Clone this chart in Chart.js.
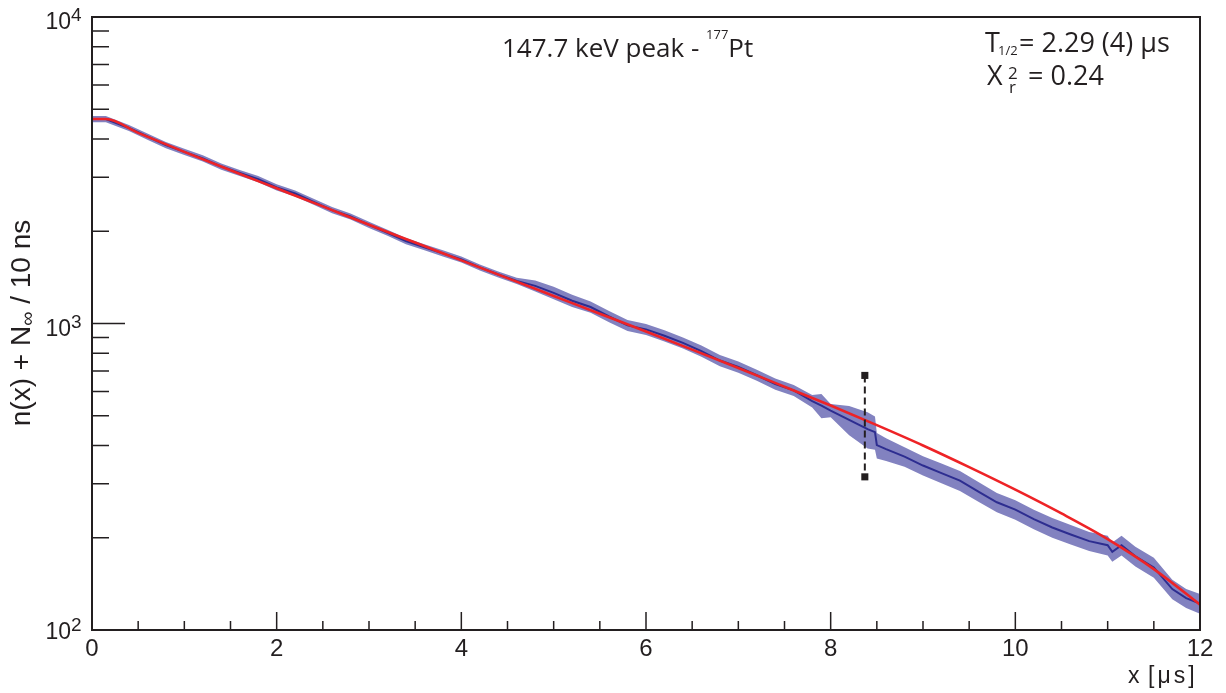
<!DOCTYPE html>
<html>
<head>
<meta charset="utf-8">
<script src="https://cdn.jsdelivr.net/npm/chart.js@4.4.1/dist/chart.umd.min.js"></script>
<style>
  html, body { margin: 0; padding: 0; background: #fff; }
  #wrap { width: 1226px; height: 693px; }
</style>
</head>
<body>
<div id="wrap"><canvas id="decayChart" width="1226" height="693"></canvas></div>
<script>
// histogram of the 147.7 keV gate, time in microseconds
const timeUs = [0, 0.15, 0.4, 0.6, 0.8, 1.0, 1.2, 1.4, 1.6, 1.8, 2.0, 2.2, 2.4, 2.6, 2.8, 3.0,
  3.2, 3.4, 3.6, 3.8, 4.0, 4.2, 4.4, 4.6, 4.8, 5.0, 5.2, 5.4, 5.6, 5.8, 6.0, 6.2, 6.4, 6.6,
  6.8, 7.0, 7.2, 7.4, 7.6, 7.8, 7.9, 8.0, 8.2, 8.4, 8.48, 8.5, 8.6, 8.8, 9.0, 9.2, 9.4, 9.6,
  9.8, 10.0, 10.2, 10.4, 10.6, 10.8, 11.0, 11.05, 11.15, 11.3, 11.5, 11.7, 11.85, 12.0];
const counts = [4645, 4645, 4345, 4074, 3819, 3631, 3459, 3251, 3097, 2958, 2780, 2655, 2495,
  2344, 2234, 2099, 1977, 1858, 1774, 1694, 1618, 1524, 1445, 1377, 1327, 1259, 1186, 1132,
  1054, 986, 957, 912, 865, 813, 757, 721, 678, 635, 605, 558, 540, 520, 485, 452, 442, 401,
  389, 368, 344, 325, 307, 283, 261, 247, 230, 216, 205, 195, 189, 180, 189, 174, 160, 136,
  127, 122];
const countErr = [107, 107, 100, 94, 88, 84, 80, 75, 71, 68, 64, 61, 57, 54, 51, 48, 45, 43,
  41, 39, 37, 35, 33, 32, 55, 60, 55, 48, 44, 41, 40, 38, 36, 34, 32, 30, 28, 27, 25, 26, 49,
  26, 53, 61, 55, 38, 33, 27, 25, 24, 23, 21, 19, 18, 17, 16, 15, 14, 14, 13, 14, 13, 12, 10,
  9, 9];

// fitted decay curve
const fitX = [0, 0.15, 0.5, 1, 1.5, 2, 2.5, 3, 3.5, 4, 4.5, 5, 5.5, 6, 6.5, 7, 7.5, 8, 8.5,
  9, 9.5, 10, 10.5, 11, 11.5, 12];
const fitY = [4645, 4645, 4188, 3631, 3162, 2761, 2410, 2099, 1837, 1607, 1406, 1230, 1076,
  942, 822, 716, 622, 540, 466, 400, 340, 287, 240, 198, 158, 121];

// fit-range marker
const cutX = [8.37, 8.37];
const cutY = [677, 316];

// axes
const xTicks = [0, 2, 4, 6, 8, 10, 12];
const xMinorStep = 0.5;
const yDecades = [2, 3, 4];

const ink = '#231f20';
const pts = (xs, ys) => xs.map((x, i) => ({ x: x, y: ys[i] }));

const axisFrame = {
  id: 'axisFrame',
  afterDraw(chart) {
    const { ctx, chartArea: a, scales: { x, y } } = chart;
    ctx.save();
    ctx.strokeStyle = ink;
    ctx.fillStyle = ink;

    // x ticks point up into the frame
    ctx.lineWidth = 1.5;
    ctx.beginPath();
    for (let v = xTicks[0]; v <= xTicks[xTicks.length - 1] + 1e-9; v += xMinorStep) {
      const px = x.getPixelForValue(v);
      const len = xTicks.includes(Math.round(v * 100) / 100) ? 18 : 9;
      ctx.moveTo(px, a.bottom);
      ctx.lineTo(px, a.bottom - len);
    }
    // y ticks point right into the frame
    yDecades.forEach((d, i) => {
      const py = y.getPixelForValue(Math.pow(10, d));
      ctx.moveTo(a.left, py);
      ctx.lineTo(a.left + 33, py);
      if (i < yDecades.length - 1) {
        for (let m = 2; m <= 9; m++) {
          const pm = y.getPixelForValue(m * Math.pow(10, d));
          ctx.moveTo(a.left, pm);
          ctx.lineTo(a.left + 17, pm);
        }
      }
    });
    ctx.stroke();

    ctx.lineWidth = 2;
    ctx.strokeRect(a.left, a.top, a.right - a.left, a.bottom - a.top);

    // x tick labels
    ctx.font = '24px "Liberation Sans", Arial, sans-serif';
    ctx.textAlign = 'center';
    ctx.textBaseline = 'alphabetic';
    xTicks.forEach(v => ctx.fillText(String(v), x.getPixelForValue(v), 656));

    // y tick labels as powers of ten
    yDecades.forEach((d, i) => {
      const py = y.getPixelForValue(Math.pow(10, d));
      const base = py + (i === 0 ? 9 : 12);
      ctx.textAlign = 'right';
      ctx.font = '23px "Liberation Sans", Arial, sans-serif';
      ctx.fillText('10', 71, base);
      ctx.textAlign = 'left';
      ctx.font = '19px "Liberation Sans", Arial, sans-serif';
      ctx.fillText(String(d), 71, base - 8);
    });

    // x axis title
    ctx.font = '23px "Liberation Sans", Arial, sans-serif';
    ctx.textAlign = 'left';
    ctx.fillText('x', 1128, 683);
    ctx.letterSpacing = '3px';
    ctx.fillText('[\u03bcs]', 1148, 683);
    ctx.letterSpacing = '0px';

    // y axis title, rotated
    ctx.save();
    ctx.translate(30, 323);
    ctx.rotate(-Math.PI / 2);
    const big = '28px "Liberation Sans", Arial, sans-serif';
    const small = '20px "Liberation Sans", Arial, sans-serif';
    ctx.font = big;
    const w1 = ctx.measureText('n(x) + N').width;
    const w3 = ctx.measureText(' / 10 ns').width;
    ctx.font = small;
    const w2 = ctx.measureText('\u221e').width;
    let cx = -(w1 + w2 + w3) / 2;
    ctx.textAlign = 'left';
    ctx.font = big;
    ctx.fillText('n(x) + N', cx, 0);
    cx += w1;
    ctx.font = small;
    ctx.fillText('\u221e', cx, 4);
    cx += w2;
    ctx.font = big;
    ctx.fillText(' / 10 ns', cx, 0);
    ctx.restore();

    // peak label
    const sans = sz => sz + 'px "Open Sans", sans-serif';
    ctx.textAlign = 'left';
    ctx.font = sans(26);
    const head = '147.7 keV peak - ';
    ctx.fillText(head, 502, 57);
    let hx = 502 + ctx.measureText(head).width;
    ctx.font = sans(13);
    ctx.fillText('177', hx, 39);
    hx += ctx.measureText('177').width;
    ctx.font = sans(26);
    ctx.fillText('Pt', hx, 57);

    // fit results
    ctx.font = sans(27);
    ctx.fillText('T', 985, 52);
    ctx.font = sans(13);
    ctx.fillText('1/2', 998, 55);
    ctx.font = sans(27);
    ctx.fillText('= 2.29 (4) \u03bcs', 1019, 52);
    ctx.fillText('X', 987, 85);
    ctx.font = sans(17);
    ctx.fillText('2', 1008, 79);
    ctx.fillText('r', 1009, 93);
    ctx.font = sans(27);
    ctx.fillText('= 0.24', 1028, 85);

    ctx.restore();
  }
};

new Chart(document.getElementById('decayChart'), {
  type: 'line',
  data: {
    datasets: [
      {
        // lower edge of the error band
        data: pts(timeUs, counts.map((c, i) => c - countErr[i])),
        borderWidth: 0,
        pointRadius: 0,
        fill: false,
        order: 5
      },
      {
        // upper edge, filled down to the lower edge
        data: pts(timeUs, counts.map((c, i) => c + countErr[i])),
        borderWidth: 0,
        pointRadius: 0,
        backgroundColor: '#8282c0',
        fill: '-1',
        order: 4
      },
      {
        data: pts(timeUs, counts),
        borderColor: '#2d2d90',
        borderWidth: 2,
        pointRadius: 0,
        fill: false,
        order: 3
      },
      {
        data: pts(fitX, fitY),
        borderColor: '#ee2326',
        borderWidth: 2.6,
        pointRadius: 0,
        cubicInterpolationMode: 'monotone',
        fill: false,
        order: 2
      },
      {
        data: pts(cutX, cutY),
        borderColor: ink,
        borderWidth: 2,
        borderDash: [7, 4],
        pointStyle: 'rect',
        pointRadius: 5,
        pointBackgroundColor: ink,
        pointBorderWidth: 0,
        fill: false,
        order: 1
      }
    ]
  },
  options: {
    responsive: false,
    animation: false,
    devicePixelRatio: 1,
    layout: { padding: { left: 92, top: 17, right: 26, bottom: 63 } },
    plugins: {
      legend: { display: false },
      tooltip: { enabled: false }
    },
    scales: {
      x: { type: 'linear', min: 0, max: 12, display: false },
      y: { type: 'logarithmic', min: 100, max: 10000, display: false }
    }
  },
  plugins: [axisFrame]
});
</script>
</body>
</html>
